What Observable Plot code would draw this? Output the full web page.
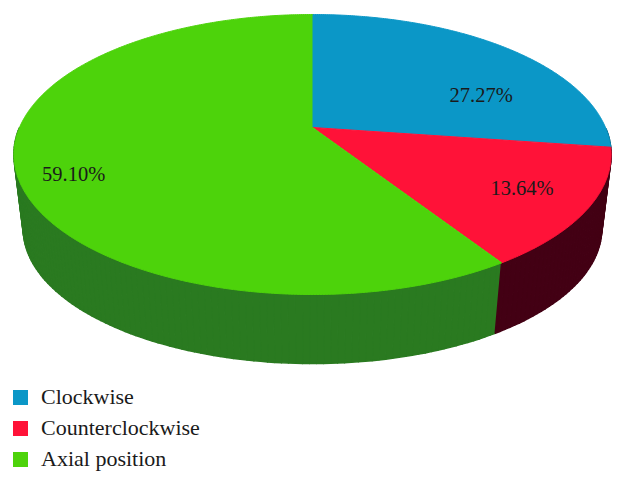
<!DOCTYPE html>
<html>
<head>
<meta charset="utf-8">
<script src="https://cdn.jsdelivr.net/npm/d3@7"></script>
<script src="https://cdn.jsdelivr.net/npm/@observablehq/plot@0.6"></script>
<style>
  html, body { margin: 0; padding: 0; background: #fff; }
  svg { display: block; }
  #legend { font-family: "Liberation Serif", serif; font-size: 22px; color: #1a1a1a; padding: 7px 0 0 13px; }
  .row { display: flex; align-items: center; height: 31px; }
  .swatch { width: 15px; height: 15px; margin-right: 13px; flex: none; }
  .name { position: relative; top: -1px; }
</style>
</head>
<body>
<div id="chart"></div>
<div id="legend"></div>
<script>
const slices = ["Clockwise", "Counterclockwise", "Axial position"];
const values = [27.27, 13.64, 59.10];
const labels = ["27.27%", "13.64%", "59.10%"];
const topColors = ["#0b97c7", "#ff1238", "#4dd30b"];
const sideColors = ["#0a5a78", "#430014", "#2a7a20"];

// Perspective view of the disc: the same projection for every slice
const W = 625, H = 375, cx = 312;
const topRim = {cy: 127, A: 293, B: 134.8, k: 0.1929};
const lowRim = {cy: 202.5, A: 284, B: 130, k: 0.19};
const project = (rim, a, r = 1) => {
  const d = 1 + rim.k * r * Math.cos(a);
  return [cx + rim.A * r * Math.sin(a) / d, rim.cy - rim.B * r * Math.cos(a) / d];
};

const arcs = d3.pie().sort(null)(values);
const sweep = (a0, a1, step) => [...d3.range(a0, a1, step), a1];
const toRow = ([x, y], z = 0) => ({x, y, z});

const topFace = (arc) => [
  toRow(project(topRim, 0, 0)),
  ...sweep(arc.startAngle, arc.endAngle, 0.008).map((a) => toRow(project(topRim, a)))
];
// the wall is cut into narrow strips so that its fold at the silhouette still fills;
// only the front half of the disc shows a wall
const sideFace = (arc) => {
  const angles = sweep(arc.startAngle, arc.endAngle, 0.02).filter((a) => Math.cos(a) < 0);
  return d3.pairs(angles).flatMap(([a, b], z) => [
    toRow(project(topRim, a), z),
    toRow(project(topRim, b), z),
    toRow(project(lowRim, b), z),
    toRow(project(lowRim, a), z)
  ]);
};

// offsets of each label from its slice's anchor point
const nudge = [[17, 28], [9, 2], [-19, 17]];
const labelRows = arcs.map((arc, i) => {
  const [x, y] = project(topRim, (arc.startAngle + arc.endAngle) / 2, 0.75);
  return {x: x + nudge[i][0], y: y + nudge[i][1], text: labels[i]};
});

const polygon = (rows, color, strokeWidth) =>
  Plot.line(rows, {x: "x", y: "y", z: "z", fill: color, stroke: color, strokeWidth, curve: "linear"});

const plot = Plot.plot({
  width: W,
  height: H,
  margin: 0,
  x: {domain: [0, W], range: [0, W], axis: null},
  y: {domain: [0, H], range: [0, H], axis: null},
  marks: [
    [0, 2, 1].map((i) => polygon(sideFace(arcs[i]), sideColors[i], 1.6)),
    [0, 1, 2].map((i) => polygon(topFace(arcs[i]), topColors[i], 1)),
    Plot.text(labelRows, {
      x: "x", y: "y", text: "text",
      fontFamily: "Liberation Serif", fontSize: 20.5, fill: "#1a1a1a"
    })
  ]
});
document.getElementById("chart").append(plot);

const legend = d3.select("#legend");
slices.forEach((name, i) => {
  const row = legend.append("div").attr("class", "row");
  row.append("div").attr("class", "swatch").style("background", topColors[i]);
  row.append("div").attr("class", "name").text(name);
});
</script>
</body>
</html>
